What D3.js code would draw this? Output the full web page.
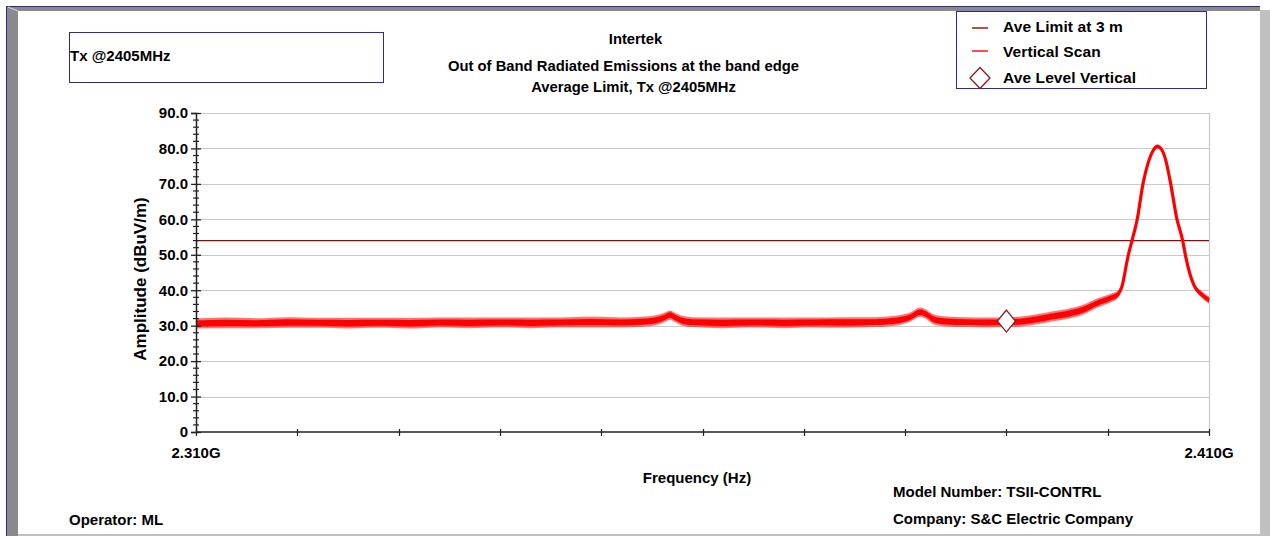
<!DOCTYPE html>
<html><head><meta charset="utf-8">
<script src="https://cdn.jsdelivr.net/npm/d3@7"></script>
<style>
body{margin:0;background:#fff;}
svg{display:block;}
text{font-family:"Liberation Sans",Arial,sans-serif;font-weight:bold;fill:#000;}
</style>
</head><body>
<svg id="c" width="1270" height="536"></svg>
<script>
// ---- data ----
const freqMHz = [2310,2313,2316,2319,2322,2325,2328,2331,2334,2337,2340,2343,2346,2349,2352,2354,2355.5,2356.3,2356.8,2357.3,2358,2359,2362,2365,2368,2371,2374,2377,2379,2380.5,2381.5,2382.2,2382.8,2384,2386,2388,2390,2391.5,2393,2394.5,2396,2397.5,2399,2400.3,2401.0,2401.4,2402.0,2402.4,2402.9,2403.5,2404.0,2404.5,2404.9,2405.3,2405.7,2406.2,2406.8,2407.4,2407.7,2408.5,2409.2,2409.8,2410];
const levelMid = [30.6,30.8,30.7,30.9,30.8,30.7,30.8,30.7,30.9,30.8,30.9,30.8,30.9,31.0,30.9,31.1,31.6,32.4,33.0,32.3,31.4,31.0,30.8,30.9,30.8,30.9,30.9,31.0,31.4,32.4,33.8,33.0,31.8,31.2,31.0,30.9,31.0,31.2,31.8,32.6,33.3,34.4,36.4,37.8,38.8,41.0,49.5,54.0,59.8,70.3,76.0,79.5,80.6,79.8,77.0,70.3,60.5,54.0,49.5,41.5,39.0,37.6,37.2];
const noiseHalf = [1.4,1.5,1.4,1.5,1.4,1.5,1.4,1.5,1.4,1.5,1.4,1.5,1.4,1.5,1.4,1.4,1.4,1.3,1.3,1.3,1.4,1.4,1.5,1.4,1.5,1.4,1.5,1.4,1.4,1.3,1.3,1.3,1.4,1.4,1.4,1.4,1.4,1.4,1.4,1.4,1.4,1.4,1.3,1.2,1.1,0.7,0.6,0.6,0.6,0.6,0.6,0.6,0.6,0.6,0.6,0.6,0.6,0.6,0.6,0.7,0.9,1.0,1.0];
const limitLevel = 54.0;
const markerFreq = [2390.0];
const markerLevel = [31.3];
const yTicks = [0,10,20,30,40,50,60,70,80,90];
const yTickLabels = ["0","10.0","20.0","30.0","40.0","50.0","60.0","70.0","80.0","90.0"];
const xTicks = [2310,2320,2330,2340,2350,2360,2370,2380,2390,2400,2410];
const xTickLabels = ["2.310G","","","","","","","","","","2.410G"];
const legendNames = ["Ave Limit at 3 m","Vertical Scan","Ave Level Vertical"];
const titleLines = ["Intertek","Out of Band Radiated Emissions at the band edge","Average Limit, Tx @2405MHz"];

const svg = d3.select("#c");
const W = 1270, H = 536;
const limitColor = "#a00000", traceColor = "#ff0000", frameBlue = "#2a2a9a";

// ---- frame ----
svg.append("rect").attr("x",0).attr("y",0).attr("width",W).attr("height",H).attr("fill","#fff");
svg.append("rect").attr("x",6).attr("y",6).attr("width",1254).attr("height",5).attr("fill","#8a8a8a");
svg.append("rect").attr("x",6).attr("y",6).attr("width",12).attr("height",530).attr("fill","#8a8a8a");
svg.append("rect").attr("x",1260).attr("y",10).attr("width",10).attr("height",526).attr("fill","#c0c0c0");
svg.append("rect").attr("x",18).attr("y",534).attr("width",1252).attr("height",2).attr("fill","#c0c0c0");
svg.append("line").attr("x1",6).attr("x2",1260).attr("y1",6.5).attr("y2",6.5).attr("stroke",frameBlue).attr("stroke-width",1);
svg.append("line").attr("x1",6.5).attr("x2",6.5).attr("y1",6).attr("y2",536).attr("stroke",frameBlue).attr("stroke-width",1);
svg.append("line").attr("x1",8).attr("x2",18).attr("y1",7).attr("y2",11).attr("stroke","#ddd").attr("stroke-width",1);

// ---- scales ----
const x = d3.scaleLinear().domain([2310,2410]).range([196,1209]);
const y = d3.scaleLinear().domain([0,90]).range([432,113]);

// ---- grid ----
const g = svg.append("g");
g.selectAll(".grid").data(yTicks.filter(d=>d>0)).join("line")
  .attr("x1",x(2310)).attr("x2",x(2410))
  .attr("y1",d=>Math.round(y(d))+0.5).attr("y2",d=>Math.round(y(d))+0.5)
  .attr("stroke","#c8c8c8").attr("stroke-width",1.2);
g.append("line").attr("x1",Math.round(x(2410))+0.5).attr("x2",Math.round(x(2410))+0.5)
  .attr("y1",y(90)).attr("y2",y(0)).attr("stroke","#c8c8c8").attr("stroke-width",1.2);

// ---- limit line ----
g.append("line").attr("x1",x(2310)).attr("x2",x(2410))
  .attr("y1",y(limitLevel)).attr("y2",y(limitLevel))
  .attr("stroke",limitColor).attr("stroke-width",1.3);

// ---- trace (noise envelope + core) ----
const pts = freqMHz.map((f,i)=>({f, m:levelMid[i], h:noiseHalf[i]}));
const curve = d3.curveMonotoneX;
const outer = d3.area().curve(curve).x(d=>x(d.f)).y0(d=>y(d.m-d.h)).y1(d=>y(d.m+d.h));
const inner = d3.area().curve(curve).x(d=>x(d.f)).y0(d=>y(d.m-d.h*0.6)).y1(d=>y(d.m+d.h*0.6));
g.append("path").datum(pts).attr("d",outer).attr("fill",traceColor).attr("fill-opacity",0.55).attr("stroke","none");
g.append("path").datum(pts).attr("d",inner).attr("fill",traceColor).attr("stroke","none");
const line = d3.line().curve(curve).x(d=>x(d.f)).y(d=>y(d.m));
g.append("path").datum(pts).attr("d",line).attr("fill","none").attr("stroke",traceColor).attr("stroke-width",3.2).attr("stroke-linejoin","round");

// ---- marker ----
const diamond = (cx,cy,hw,hh)=>`M${cx},${cy-hh}L${cx+hw},${cy}L${cx},${cy+hh}L${cx-hw},${cy}Z`;
g.selectAll(".mk").data(markerFreq).join("path")
  .attr("d",(d,i)=>diamond(x(d),y(markerLevel[i]),9,11))
  .attr("fill","#fff").attr("stroke","#8b1a1a").attr("stroke-width",1.3);

// ---- axes ----
const yAxis = d3.axisLeft(y).tickValues(yTicks).tickFormat((d,i)=>yTickLabels[i]).tickSize(5).tickPadding(3);
const ya = svg.append("g").attr("transform",`translate(${x(2310)},0)`).call(yAxis);
ya.select(".domain").attr("stroke","#222").attr("stroke-width",1.5);
ya.selectAll(".tick line").attr("stroke","#222").attr("stroke-width",1.3);
ya.selectAll(".tick").append("line").attr("x1",0).attr("x2",5).attr("stroke","#222").attr("stroke-width",1.3);
ya.selectAll("text").attr("font-size",15).attr("font-family","Liberation Sans, Arial").attr("font-weight","bold").attr("fill","#000");
const minor = d3.range(0,90,2).filter(d=>d%10!==0);
ya.selectAll(".minor").data(minor).join("line").attr("class","minor")
  .attr("x1",-3).attr("x2",3).attr("y1",d=>y(d)).attr("y2",d=>y(d))
  .attr("stroke","#222").attr("stroke-width",1.2);

const xa = svg.append("g");
xa.append("line").attr("x1",x(2310)).attr("x2",x(2410)).attr("y1",y(0)).attr("y2",y(0)).attr("stroke","#222").attr("stroke-width",1.6);
xa.selectAll(".xt").data(xTicks).join("line")
  .attr("x1",d=>Math.round(x(d))+0.5).attr("x2",d=>Math.round(x(d))+0.5)
  .attr("y1",y(0)-3).attr("y2",y(0)+4).attr("stroke","#222").attr("stroke-width",1.2);
xa.selectAll(".xl").data(xTicks).join("text")
  .attr("x",d=>x(d)).attr("y",y(0)+26).attr("text-anchor","middle").attr("font-size",15)
  .text((d,i)=>xTickLabels[i]);

// ---- axis titles ----
svg.append("text").attr("transform","translate(146,279) rotate(-90)").attr("text-anchor","middle").attr("font-size",17).text("Amplitude (dBuV/m)");
svg.append("text").attr("x",697).attr("y",483).attr("text-anchor","middle").attr("font-size",15).text("Frequency (Hz)");

// ---- titles ----
const titleX = [635.5,623.5,633.5], titleY = [44,71,92];
svg.selectAll(".title").data(titleLines).join("text").attr("class","title")
  .attr("x",(d,i)=>titleX[i]).attr("y",(d,i)=>titleY[i]).attr("text-anchor","middle").attr("font-size",14.8).text(d=>d);

// ---- top-left box ----
svg.append("rect").attr("x",69.5).attr("y",32.5).attr("width",314).attr("height",50).attr("fill","none").attr("stroke",frameBlue).attr("stroke-width",1);
svg.append("text").attr("x",70).attr("y",61).attr("font-size",15).text("Tx @2405MHz");

// ---- legend ----
const lg = svg.append("g");
lg.append("rect").attr("x",956.5).attr("y",11.5).attr("width",250).attr("height",77).attr("fill","#fff").attr("stroke",frameBlue).attr("stroke-width",1);
const legY = [28,51,78];
lg.append("line").attr("x1",972).attr("x2",988).attr("y1",legY[0]).attr("y2",legY[0]).attr("stroke",limitColor).attr("stroke-width",1.4);
lg.append("line").attr("x1",972).attr("x2",988).attr("y1",legY[1]).attr("y2",legY[1]).attr("stroke",traceColor).attr("stroke-width",1.4);
lg.append("path").attr("d",diamond(980,legY[2],10,10.5)).attr("fill","#fff").attr("stroke","#8b1a1a").attr("stroke-width",1.3);
const legBase = [32,57,83];
lg.selectAll(".lt").data(legendNames).join("text").attr("x",1003).attr("y",(d,i)=>legBase[i]).attr("font-size",15.5).attr("letter-spacing",0.1).text(d=>d);

// ---- footer ----
svg.append("text").attr("x",69).attr("y",525).attr("font-size",15).text("Operator: ML");
svg.append("text").attr("x",893).attr("y",497).attr("font-size",15).text("Model Number: TSII-CONTRL");
svg.append("text").attr("x",893).attr("y",524).attr("font-size",15).text("Company: S&C Electric Company");
</script>
</body></html>
